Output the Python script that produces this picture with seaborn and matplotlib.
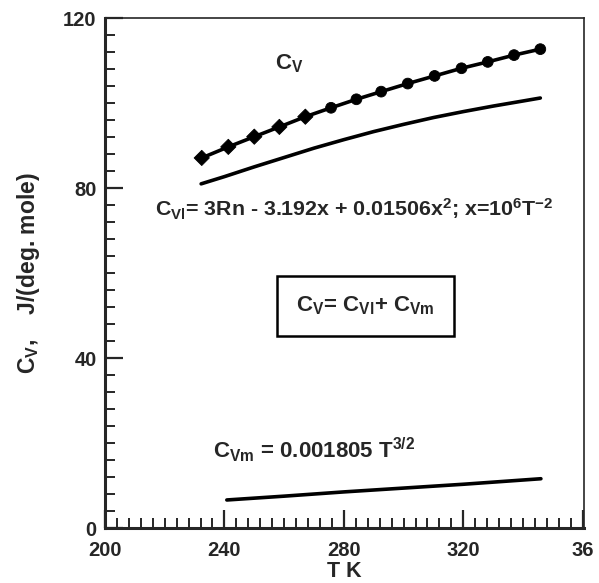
import numpy as np
import pandas as pd
import matplotlib
matplotlib.use("Agg")
import matplotlib.pyplot as plt
import seaborn as sns
from matplotlib.ticker import MultipleLocator, FixedLocator, FixedFormatter

# Дані
t_cv = [232.4, 241.3, 250.0, 258.4, 267.1, 275.7, 284.2, 292.5, 301.4, 310.4, 319.4, 328.2, 337.0, 345.8]
cv = [87.1, 89.7, 92.1, 94.4, 96.8, 98.9, 100.9, 102.7, 104.6, 106.4, 108.2, 109.7, 111.3, 112.7]
cv_marker = ['D'] * 5 + ['o'] * 9

t_cvl = [232.2, 240.0, 250.0, 260.0, 270.0, 280.0, 290.0, 300.0, 310.0, 320.0, 330.0, 340.0, 345.8]
cvl = [81.0, 82.7, 85.0, 87.2, 89.4, 91.4, 93.3, 95.0, 96.6, 98.0, 99.3, 100.5, 101.2]

t_cvm = [240.8, 260.0, 280.0, 300.0, 320.0, 346.0]
cvm = [6.6, 7.5, 8.5, 9.4, 10.3, 11.6]

x_ticks = [200, 240, 280, 320, 360]
x_labels = ['200', '240', '280', '320', '36']
y_ticks = [0, 40, 80, 120]

sns.set_theme(style="ticks")
plt.rcParams['font.family'] = ['Liberation Sans', 'DejaVu Sans']
plt.rcParams['font.weight'] = 'bold'
plt.rcParams['mathtext.fontset'] = 'custom'
plt.rcParams['mathtext.rm'] = 'Liberation Sans:bold'
plt.rcParams['mathtext.it'] = 'Liberation Sans:bold'
plt.rcParams['mathtext.bf'] = 'Liberation Sans:bold'
plt.rcParams['mathtext.default'] = 'rm'

fig = plt.figure(figsize=(5.99, 5.83), dpi=100)
ax = fig.add_axes([0.1753, 0.0943, 0.8, 0.8746])

df_cv = pd.DataFrame({'T': t_cv, 'Cv': cv, 'm': cv_marker})
sns.lineplot(x=t_cvl, y=cvl, ax=ax, color='black', lw=2.6)
sns.lineplot(x=t_cvm, y=cvm, ax=ax, color='black', lw=2.6)
sns.lineplot(data=df_cv, x='T', y='Cv', ax=ax, color='black', lw=2.6)
sns.scatterplot(data=df_cv, x='T', y='Cv', style='m', markers={'D': 'D', 'o': 'o'},
                ax=ax, color='black', s=60, edgecolor='black', legend=False, zorder=3)

ax.set_xlim(200, 360.5)
ax.set_ylim(0, 120)
ax.xaxis.set_major_locator(FixedLocator(x_ticks))
ax.xaxis.set_major_formatter(FixedFormatter(x_labels))
ax.xaxis.set_minor_locator(MultipleLocator(4))
ax.yaxis.set_major_locator(FixedLocator(y_ticks))
ax.yaxis.set_minor_locator(MultipleLocator(4))
ax.tick_params(which='major', direction='in', length=13, width=1.6, labelsize=14.5, pad=9,
               top=False, right=False)
ax.tick_params(which='minor', direction='in', length=7, width=1.4, top=False, right=False)
ax.tick_params(axis='y', which='major', pad=6)
for lab in ax.get_xticklabels() + ax.get_yticklabels():
    lab.set_fontweight('bold')

for side in ['left', 'bottom']:
    ax.spines[side].set_linewidth(2.2)
for side in ['top', 'right']:
    ax.spines[side].set_linewidth(1.2)

ax.set_xlabel('T K', fontsize=15.5, fontweight='bold', labelpad=1)
ax.set_ylabel('C$_{\\mathrm{V}}$,    J/(deg. mole)', fontsize=16.5, fontweight='bold', labelpad=15)

ax.text(0.355, 0.91, 'C$_{\\mathrm{V}}$', transform=ax.transAxes, fontsize=16,
        ha='left', va='center', fontweight='bold')
ax.text(0.104, 0.624, 'C$_{\\mathrm{Vl}}$= 3Rn - 3.192x + 0.01506x$^{2}$; x=10$^{6}$T$^{-2}$',
        transform=ax.transAxes, fontsize=15.4, ha='left', va='center', fontweight='bold')
ax.text(0.544, 0.436, 'C$_{\\mathrm{V}}$= C$_{\\mathrm{Vl}}$+ C$_{\\mathrm{Vm}}$',
        transform=ax.transAxes, fontsize=16, ha='center', va='center', fontweight='bold',
        bbox=dict(boxstyle='square,pad=0.85', facecolor='white', edgecolor='black', lw=1.8))
ax.text(0.2255, 0.153, 'C$_{\\mathrm{Vm}}$ = 0.001805 T$^{3/2}$',
        transform=ax.transAxes, fontsize=16, ha='left', va='center', fontweight='bold')

fig.savefig('out.png', dpi=100)
